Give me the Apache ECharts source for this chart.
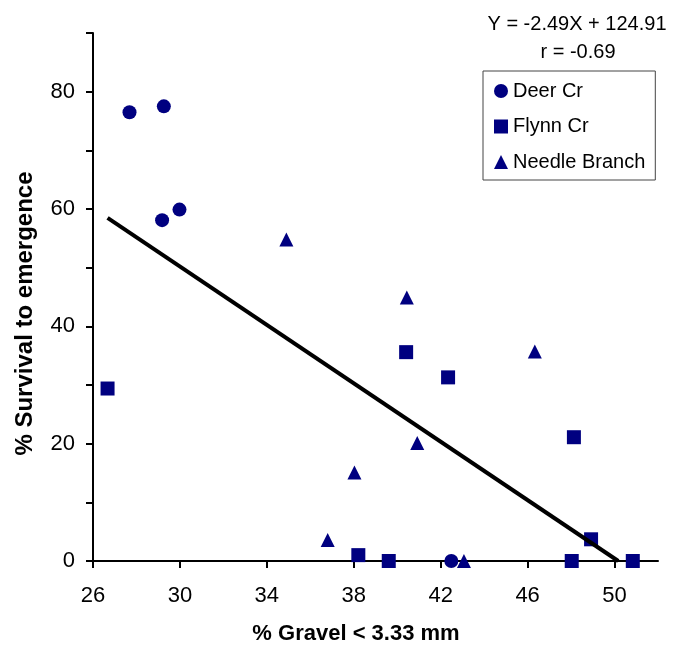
<!DOCTYPE html>
<html>
<head>
<meta charset="utf-8">
<script src="https://cdn.jsdelivr.net/npm/echarts@6/dist/echarts.min.js"></script>
<style>
  html, body { margin: 0; padding: 0; background: #fff; }
  #chart { width: 678px; height: 647px; }
</style>
</head>
<body>
<div id="chart"></div>
<script>
// data
var deerX = [27.68, 29.26, 29.18, 29.98, 42.49];
var deerY = [76.5, 77.5, 58.1, 59.9, 0];
var flynnX = [26.67, 40.41, 42.34, 48.13, 48.92, 38.21, 39.61, 48.03, 50.84];
var flynnY = [29.4, 35.6, 31.3, 21.1, 3.7, 1.0, 0, 0, 0];
var needleX = [34.9, 40.44, 36.8, 38.03, 40.92, 46.33, 43.07];
var needleY = [54.8, 44.9, 3.6, 15.1, 20.1, 35.7, 0];

// fitted line end points
var fitX = [26.67, 50.17];
var fitY = [58.5, 0];

var xTicks = [26, 30, 34, 38, 42, 46, 50];
var yTicks = [0, 10, 20, 30, 40, 50, 60, 70, 80, 90];
var yLabels = [0, 20, 40, 60, 80];

var equationText = 'Y = -2.49X + 124.91';
var rText = 'r = -0.69';

function pairs(xs, ys) {
    return xs.map(function (x, i) { return [x, ys[i]]; });
}

var navy = '#000080';
var font = 'Arial, "Liberation Sans", sans-serif';

var chart = echarts.init(document.getElementById('chart'), null, { renderer: 'canvas' });

chart.setOption({
    animation: false,
    grid: { left: 93, right: 20, top: 33, bottom: 86, outerBoundsMode: 'none' },
    legend: {
        orient: 'vertical',
        left: 483,
        top: 71,
        padding: [10, 10, 8, 11],
        itemGap: 15.5,
        itemWidth: 14,
        itemHeight: 14,
        borderColor: '#444',
        borderWidth: 1,
        textStyle: { fontFamily: font, fontSize: 20, color: '#000', lineHeight: 20 },
        data: ['Deer Cr', 'Flynn Cr', 'Needle Branch']
    },
    xAxis: {
        type: 'value',
        min: 26,
        max: 52,
        name: '% Gravel < 3.33 mm',
        nameLocation: 'middle',
        nameGap: 62,
        nameTextStyle: {
            fontFamily: font, fontSize: 22, fontWeight: 'bold', color: '#000',
            padding: [0, 39, 0, 0]
        },
        axisLine: { onZero: false, lineStyle: { color: '#000', width: 2 } },
        axisTick: { customValues: xTicks, length: 7, lineStyle: { color: '#000', width: 2 } },
        axisLabel: { customValues: xTicks, margin: 24, fontFamily: font, fontSize: 22, color: '#000' },
        splitLine: { show: false }
    },
    yAxis: {
        type: 'value',
        min: 0,
        max: 90,
        name: '% Survival to emergence',
        nameLocation: 'middle',
        nameGap: 56,
        nameTextStyle: {
            fontFamily: font, fontSize: 24, fontWeight: 'bold', color: '#000',
            padding: [0, 33, 0, 0]
        },
        axisLine: { show: true, lineStyle: { color: '#000', width: 2 } },
        axisTick: { show: true, customValues: yTicks, length: 7, lineStyle: { color: '#000', width: 2 } },
        axisLabel: { customValues: yLabels, margin: 18, fontFamily: font, fontSize: 22, color: '#000' },
        splitLine: { show: false }
    },
    graphic: [
        {
            type: 'text', x: 577, y: 24, z: 10,
            style: { text: equationText, align: 'center', verticalAlign: 'middle',
                     font: '20px ' + font, fill: '#000' }
        },
        {
            type: 'text', x: 578, y: 52, z: 10,
            style: { text: rText, align: 'center', verticalAlign: 'middle',
                     font: '20px ' + font, fill: '#000' }
        }
    ],
    series: [
        {
            name: 'Deer Cr', type: 'scatter', symbol: 'circle', symbolSize: 14, clip: false,
            itemStyle: { color: navy, opacity: 1 }, data: pairs(deerX, deerY)
        },
        {
            name: 'Flynn Cr', type: 'scatter', symbol: 'rect', symbolSize: 14, clip: false,
            itemStyle: { color: navy, opacity: 1 }, data: pairs(flynnX, flynnY)
        },
        {
            name: 'Needle Branch', type: 'scatter', symbol: 'triangle', symbolSize: 14, clip: false,
            itemStyle: { color: navy, opacity: 1 }, data: pairs(needleX, needleY)
        },
        {
            name: 'fit', type: 'line', showSymbol: false, symbol: 'none', z: 5,
            lineStyle: { color: '#000', width: 4 }, data: pairs(fitX, fitY)
        }
    ]
});
</script>
</body>
</html>
